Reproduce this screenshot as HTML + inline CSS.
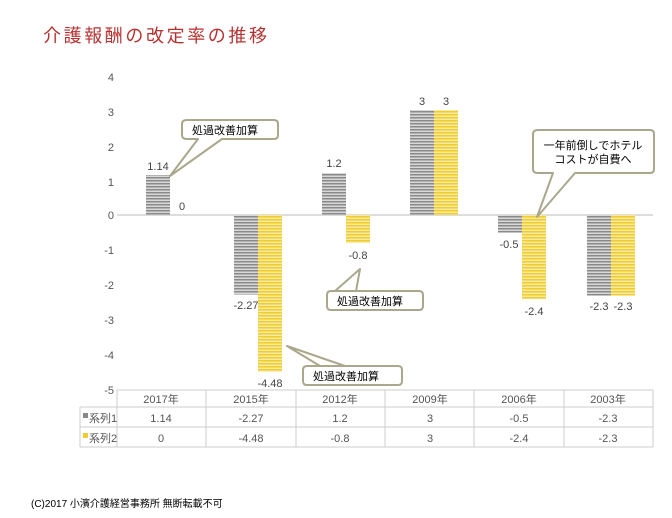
<!DOCTYPE html>
<html><head><meta charset="utf-8"><style>
body{margin:0;background:#fff;}
svg{display:block;font-family:"Liberation Sans","Noto Sans CJK JP",sans-serif;}
</style></head><body>
<svg width="672" height="518" viewBox="0 0 672 518" xmlns="http://www.w3.org/2000/svg">
<defs>
<pattern id="pg" width="4" height="3" patternUnits="userSpaceOnUse"><rect width="4" height="3" fill="#d8d8d8"/><rect width="4" height="1.5" fill="#8a8a8a"/></pattern>
<pattern id="py" width="4" height="3" patternUnits="userSpaceOnUse"><rect width="4" height="3" fill="#f8eaa0"/><rect width="4" height="1.5" fill="#f0cc30"/></pattern>
</defs>
<text x="43" y="42" font-size="18" fill="#b8312f" letter-spacing="2.6">介護報酬の改定率の推移</text>
<g font-size="11" fill="#555" text-anchor="end">
<text x="114" y="81">4</text><text x="114" y="116">3</text><text x="114" y="151">2</text><text x="114" y="186">1</text>
<text x="114" y="219">0</text><text x="114" y="254">-1</text><text x="114" y="289">-2</text><text x="114" y="324">-3</text>
<text x="114" y="359">-4</text><text x="114" y="394">-5</text>
</g>
<line x1="117" y1="215" x2="653" y2="215" stroke="#bbb"/>
<rect x="146" y="175" width="24" height="40" fill="url(#pg)"/>
<rect x="234" y="215" width="24" height="79.5" fill="url(#pg)"/>
<rect x="258" y="215" width="24" height="156.8" fill="url(#py)"/>
<rect x="322" y="173" width="24" height="42" fill="url(#pg)"/>
<rect x="346" y="215" width="24" height="28" fill="url(#py)"/>
<rect x="410" y="110" width="24" height="105" fill="url(#pg)"/>
<rect x="434" y="110" width="24" height="105" fill="url(#py)"/>
<rect x="498" y="215" width="24" height="17.5" fill="url(#pg)"/>
<rect x="522" y="215" width="24" height="84" fill="url(#py)"/>
<rect x="587" y="215" width="24" height="80.5" fill="url(#pg)"/>
<rect x="611" y="215" width="24" height="80.5" fill="url(#py)"/>
<g font-size="11" fill="#444" text-anchor="middle">
<text x="158" y="170">1.14</text><text x="182" y="210">0</text>
<text x="246" y="309">-2.27</text><text x="270" y="387">-4.48</text>
<text x="334" y="167">1.2</text><text x="358" y="259">-0.8</text>
<text x="422" y="105">3</text><text x="446" y="105">3</text>
<text x="509" y="248">-0.5</text><text x="534" y="315">-2.4</text>
<text x="599" y="310">-2.3</text><text x="623" y="310">-2.3</text>
</g>
<g stroke="#a9a88c" stroke-width="2" fill="#fff" stroke-linejoin="round">
<path d="M187,120 H274 Q278,120 278,124 V135 Q278,139 274,139 H222 L170,176 L198,139 H187 Q182,139 182,135 V124 Q182,120 187,120 Z"/>
<path d="M331,291 H419 Q423,291 423,295 V306 Q423,310 419,310 H331 Q327,310 327,306 V295 Q327,291 331,291 H335 L360,269 L356,291 Z"/>
<path d="M307,366 H398 Q402,366 402,370 V381 Q402,385 398,385 H307 Q303,385 303,381 V370 Q303,366 307,366 H320 L287,346 L345,366 Z"/>
<path d="M538,130 H650 Q654,130 654,134 V169 Q654,173 650,173 H575 L537,217 L553,173 H538 Q533,173 533,169 V134 Q533,130 538,130 Z"/>
</g>
<g font-size="11" fill="#000">
<text x="192" y="134">処過改善加算</text>
<text x="337" y="305">処過改善加算</text>
<text x="313" y="380">処過改善加算</text>
<text x="593" y="149" text-anchor="middle">一年前倒しでホテル</text>
<text x="593" y="163" text-anchor="middle">コストが自費へ</text>
</g>
<g stroke="#ccc" stroke-width="1" fill="none">
<line x1="117" y1="390" x2="653" y2="390"/>
<line x1="80" y1="407" x2="653" y2="407"/>
<line x1="80" y1="427" x2="653" y2="427"/>
<line x1="80" y1="447" x2="653" y2="447"/>
<line x1="80" y1="407" x2="80" y2="447"/>
<line x1="117" y1="390" x2="117" y2="447"/>
<line x1="206" y1="390" x2="206" y2="447"/>
<line x1="296" y1="390" x2="296" y2="447"/>
<line x1="385" y1="390" x2="385" y2="447"/>
<line x1="474" y1="390" x2="474" y2="447"/>
<line x1="564" y1="390" x2="564" y2="447"/>
<line x1="653" y1="390" x2="653" y2="447"/>
</g>
<g font-size="11" fill="#555" text-anchor="middle">
<text x="161" y="403">2017年</text><text x="251" y="403">2015年</text><text x="340" y="403">2012年</text><text x="430" y="403">2009年</text><text x="519" y="403">2006年</text><text x="608" y="403">2003年</text>
<text x="161" y="422">1.14</text><text x="251" y="422">-2.27</text><text x="340" y="422">1.2</text><text x="430" y="422">3</text><text x="519" y="422">-0.5</text><text x="608" y="422">-2.3</text>
<text x="161" y="442">0</text><text x="251" y="442">-4.48</text><text x="340" y="442">-0.8</text><text x="430" y="442">3</text><text x="519" y="442">-2.4</text><text x="608" y="442">-2.3</text>
</g>
<rect x="83" y="413" width="5" height="5" fill="#888"/>
<rect x="83" y="433" width="5" height="5" fill="#f0cc30"/>
<text x="89" y="422" font-size="11" fill="#555">系列1</text>
<text x="89" y="442" font-size="11" fill="#555">系列2</text>
<text x="31" y="507" font-size="10" fill="#000">(C)2017 小濱介護経営事務所 無断転載不可</text>
</svg>
</body></html>
